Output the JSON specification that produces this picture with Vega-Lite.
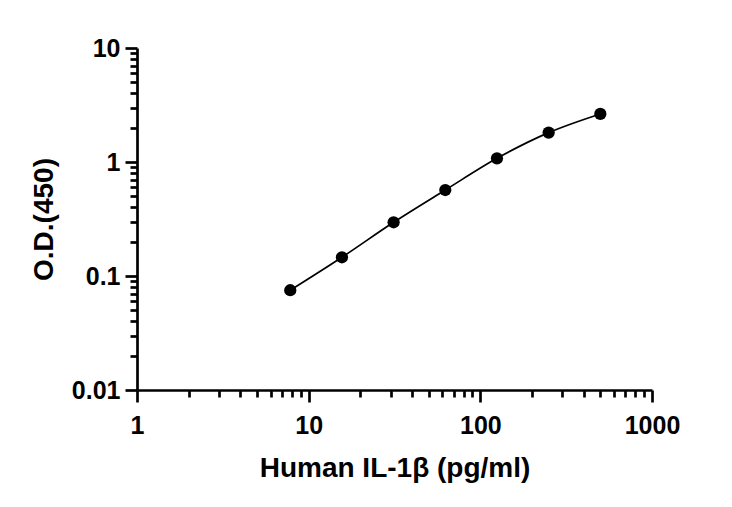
{
  "$schema": "https://vega.github.io/schema/vega-lite/v6.json",
  "width": 515,
  "height": 342,
  "autosize": "none",
  "padding": {"left": 137, "top": 48, "right": 80, "bottom": 117},
  "background": "white",
  "view": {"stroke": null},
  "config": {
    "font": "Liberation Sans",
    "axis": {
      "grid": false,
      "domainColor": "black",
      "domainWidth": 2.7,
      "tickColor": "black",
      "tickWidth": 2.7,
      "labelColor": "black",
      "labelFont": "Liberation Sans",
      "labelFontWeight": "bold",
      "labelFontSize": 25,
      "titleColor": "black",
      "titleFont": "Liberation Sans",
      "titleFontWeight": "bold"
    }
  },
  "data": {
    "values": [
      {"conc": 7.8125, "od": 0.075},
      {"conc": 15.625, "od": 0.146},
      {"conc": 31.25, "od": 0.296},
      {"conc": 62.5, "od": 0.568},
      {"conc": 125, "od": 1.077},
      {"conc": 250, "od": 1.81},
      {"conc": 500, "od": 2.64}
    ]
  },
  "layer": [
    {
      "mark": {"type": "line", "color": "black", "strokeWidth": 1.7, "interpolate": "monotone"},
      "encoding": {
        "x": {
          "field": "conc",
          "type": "quantitative",
          "scale": {"type": "log", "domain": [1, 1000], "nice": false},
          "axis": {
            "orient": "bottom",
            "values": [1, 10, 100, 1000],
            "format": "~g",
            "tickSize": 12,
            "labelBaseline": "alphabetic",
            "labelPadding": 31,
            "labelFlush": false,
            "labelOverlap": false,
            "title": "Human IL-1β (pg/ml)",
            "titleFontSize": 28,
            "titleBaseline": "alphabetic",
            "titleX": 257.5,
            "titleY": 86
          }
        },
        "y": {
          "field": "od",
          "type": "quantitative",
          "scale": {"type": "log", "domain": [0.01, 10], "nice": false},
          "axis": {
            "orient": "left",
            "values": [0.01, 0.1, 1, 10],
            "format": "~g",
            "tickSize": 12,
            "labelPadding": 5,
            "labelBaseline": "middle",
            "labelFlush": false,
            "labelOverlap": false,
            "title": "O.D.(450)",
            "titleFontSize": 28,
            "titleAngle": -90,
            "titleAlign": "center",
            "titleBaseline": "middle",
            "titleX": -93,
            "titleY": 171
          }
        }
      }
    },
    {
      "mark": {"type": "point", "filled": true, "color": "black", "opacity": 1, "size": 150},
      "encoding": {
        "x": {
          "field": "conc",
          "type": "quantitative",
          "scale": {"type": "log", "domain": [1, 1000], "nice": false},
          "axis": {
            "orient": "bottom",
            "values": [2, 3, 4, 5, 6, 7, 8, 9, 20, 30, 40, 50, 60, 70, 80, 90, 200, 300, 400, 500, 600, 700, 800, 900],
            "tickSize": 7,
            "labels": false,
            "domain": false,
            "title": null
          }
        },
        "y": {
          "field": "od",
          "type": "quantitative",
          "scale": {"type": "log", "domain": [0.01, 10], "nice": false},
          "axis": {
            "orient": "left",
            "values": [0.02, 0.03, 0.04, 0.05, 0.06, 0.07, 0.08, 0.09, 0.2, 0.3, 0.4, 0.5, 0.6, 0.7, 0.8, 0.9, 2, 3, 4, 5, 6, 7, 8, 9],
            "tickSize": 7,
            "labels": false,
            "domain": false,
            "title": null
          }
        }
      }
    }
  ],
  "resolve": {"axis": {"x": "independent", "y": "independent"}}
}
